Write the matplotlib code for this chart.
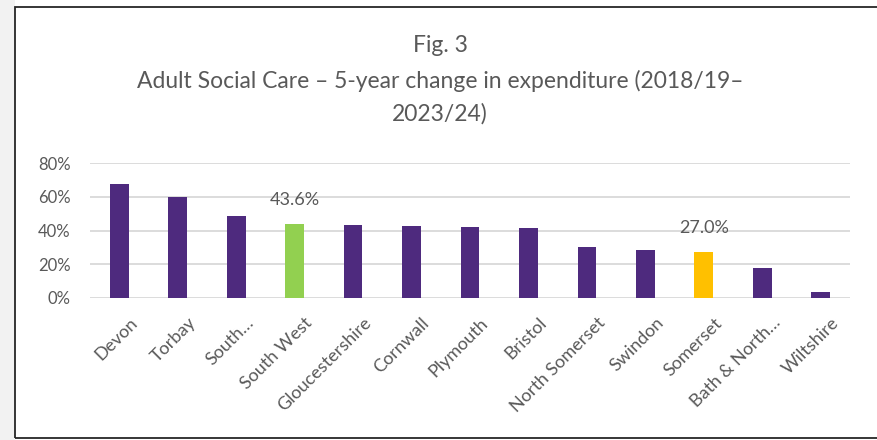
import matplotlib.pyplot as plt
from matplotlib.patches import Rectangle
from matplotlib.transforms import ScaledTranslation

# 5-year change in adult social care expenditure, 2018/19 to 2023/24 (%)
areas = ['Devon', 'Torbay', 'South\u2026', 'South West', 'Gloucestershire',
         'Cornwall', 'Plymouth', 'Bristol', 'North Somerset', 'Swindon',
         'Somerset', 'Bath & North\u2026', 'Wiltshire']
change = [67.7, 60.0, 48.3, 43.6, 43.3, 42.6, 41.9, 41.7, 30.2, 28.3,
          27.0, 17.8, 3.7]
labelled = ['South West', 'Somerset']

purple = '#4E2A7E'
highlight = {'South West': '#92D050', 'Somerset': '#FFC000'}
text_grey = '#595959'

plt.rcParams['font.family'] = ['Lato', 'DejaVu Sans']

fig = plt.figure(figsize=(8.77, 4.40), dpi=100, facecolor='white')
W, H = 877, 440

# panel frame and faint shadow to its left
fig.patches.append(Rectangle((0, 0), 15 / W, 1, transform=fig.transFigure,
                             facecolor='#f2f2f2', edgecolor='none', zorder=-2))
fig.patches.append(Rectangle((15.5 / W, 2 / H), 1.2, 431 / H,
                             transform=fig.transFigure, facecolor='none',
                             edgecolor='#262626', linewidth=1.3, zorder=-1))

ax = fig.add_axes([90 / W, 142 / H, 760 / W, 135 / H])
ax.set_facecolor('none')

x = list(range(len(areas)))
colors = [highlight.get(a, purple) for a in areas]
bars = ax.bar(x, change, width=0.32, color=colors, zorder=3)

for i, a in enumerate(areas):
    if a in labelled:
        ax.annotate(f'{change[i]:.1f}%', (i, change[i]), xytext=(0, 12),
                    textcoords='offset points', ha='center', va='bottom',
                    fontsize=13, color=text_grey)

ax.set_xlim(-0.5, len(areas) - 0.5)
ax.set_ylim(0, 80)
ax.set_yticks([0, 20, 40, 60, 80])
ax.set_yticklabels([f'{v}%' for v in [0, 20, 40, 60, 80]])
ax.yaxis.grid(True, color='#d9d9d9', linewidth=1.3, zorder=0)
ax.set_axisbelow(True)
for s in ax.spines.values():
    s.set_visible(False)
ax.tick_params(axis='both', length=0, labelcolor=text_grey)
ax.tick_params(axis='y', pad=14, labelsize=12)
ax.set_xticks(x)
ax.set_xticklabels(areas, rotation=45, ha='right', rotation_mode='anchor')
ax.tick_params(axis='x', pad=12, labelsize=13)

# nudge rotated category labels so they end just right of each bar
shift = ScaledTranslation(7 / 72, 0, fig.dpi_scale_trans)
for lbl in ax.get_xticklabels():
    lbl.set_transform(lbl.get_transform() + shift)

title_lines = ['Fig. 3',
               'Adult Social Care \u2013 5-year change in expenditure (2018/19\u2013',
               '2023/24)']
for line, ypix in zip(title_lines, [45, 81, 114]):
    fig.text(440 / W, 1 - ypix / H, line, ha='center', va='center',
             fontsize=16.5, color=text_grey)

fig.savefig('out.png', dpi=100, facecolor='white')
